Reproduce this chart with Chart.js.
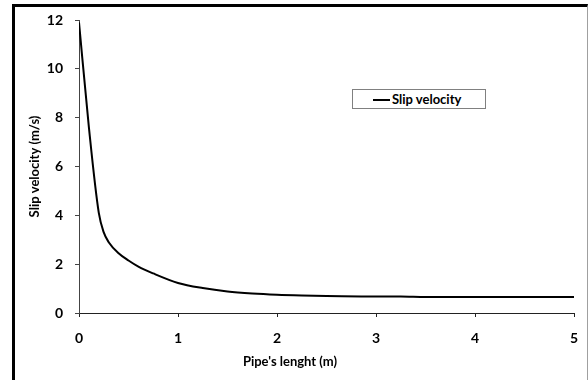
<!DOCTYPE html>
<html>
<head>
<meta charset="utf-8">
<script src="https://cdn.jsdelivr.net/npm/chart.js@4"></script>
<style>
  html, body { margin: 0; padding: 0; background: #fff; }
  #wrap { position: relative; width: 588px; height: 380px; overflow: hidden; }
  #frame { position: absolute; left: 12px; top: 4px; width: 572px; height: 400px;
           border-left: 3px solid #000; border-top: 3px solid #000; border-right: 1px solid #a0a0a0; }
  #legend { position: absolute; left: 352px; top: 89px; width: 132px; height: 18px;
            border: 1px solid #808080; background: #fff;
            font: bold 13px Lato, sans-serif; color: #000; }
  #legend .swatch { position: absolute; left: 20px; top: 9px; width: 17px; height: 2px; background: #000; }
  #legend .txt { position: absolute; left: 39px; top: 1px; }
  canvas { position: absolute; left: 0; top: 0; }
</style>
</head>
<body>
<div id="wrap">
  <div id="frame"></div>
  <canvas id="myChart" width="588" height="380"></canvas>
  <div id="legend"><span class="swatch"></span><span class="txt" id="legendText"></span></div>
</div>
<script>
const pipeLength = [0, 0.1, 0.2, 0.25, 0.3, 0.4, 0.5, 0.6, 0.75, 1, 1.25, 1.5, 1.75, 2, 2.25, 2.5, 3, 3.25, 3.5, 4, 4.5, 5];
const slipVelocity = [11.9, 7.6, 4.1, 3.3, 2.9, 2.45, 2.15, 1.9, 1.62, 1.23, 1.02, 0.88, 0.8, 0.75, 0.72, 0.7, 0.68, 0.68, 0.66, 0.66, 0.66, 0.66];
const seriesLabel = 'Slip velocity';
const xTitle = "Pipe's lenght (m)";
const yTitle = 'Slip velocity (m/s)';

document.getElementById('legendText').textContent = seriesLabel;

const fontFam = 'Lato, sans-serif';

// axis titles drawn by hand so they sit where the reference has them
const titlesPlugin = {
    id: 'titles',
    afterDraw(chart) {
        const ctx = chart.ctx;
        ctx.save();
        ctx.fillStyle = '#000';
        ctx.font = 'bold 13px ' + fontFam;
        ctx.textAlign = 'center';
        ctx.textBaseline = 'middle';
        ctx.fillText(xTitle, 290, 362);
        ctx.translate(35, (chart.chartArea.top + chart.chartArea.bottom) / 2);
        ctx.rotate(-Math.PI / 2);
        ctx.fillText(yTitle, 0, 0);
        ctx.restore();
    }
};

const ctx = document.getElementById('myChart').getContext('2d');
const myChart = new Chart(ctx, {
    type: 'line',
    data: {
        datasets: [{
            label: seriesLabel,
            data: pipeLength.map((x, i) => ({ x: x, y: slipVelocity[i] })),
            borderColor: '#000',
            borderWidth: 2,
            pointRadius: 0,
            fill: false,
            cubicInterpolationMode: 'monotone'
        }]
    },
    options: {
        responsive: false,
        animation: false,
        layout: { padding: { top: 20, right: 14, left: 0, bottom: 0 } },
        plugins: { legend: { display: false }, tooltip: { enabled: false } },
        scales: {
            x: {
                type: 'linear',
                min: 0,
                max: 5,
                afterFit(scale) { scale.height = 67; scale.paddingRight = 0; scale.paddingLeft = 0; },
                ticks: { stepSize: 1, color: '#000', padding: 13, font: { family: fontFam, size: 14, weight: 'bold' } },
                grid: { drawOnChartArea: false, drawTicks: true, tickLength: 4, color: '#222' },
                border: { display: true, color: '#222', width: 1 }
            },
            y: {
                min: 0,
                max: 12,
                afterFit(scale) { scale.width = 79; scale.paddingTop = 0; scale.paddingBottom = 0; },
                ticks: { stepSize: 2, color: '#000', padding: 12, font: { family: fontFam, size: 14, weight: 'bold' } },
                grid: { drawOnChartArea: false, drawTicks: true, tickLength: 4, color: '#444' },
                border: { display: true, color: '#444', width: 1 }
            }
        }
    },
    plugins: [titlesPlugin]
});
</script>
</body>
</html>
